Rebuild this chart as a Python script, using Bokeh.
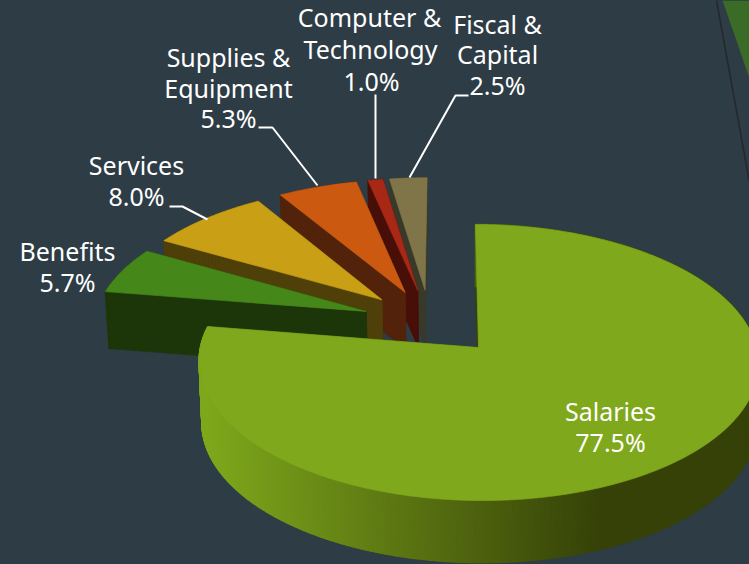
import math
from bokeh.embed import file_html
from bokeh.resources import INLINE
from bokeh.plotting import figure
from bokeh.models import Range1d, ColumnDataSource
from bokeh.core.properties import value

# ---- data ----
categories = ["Salaries", "Benefits", "Services", "Supplies & Equipment", "Computer & Technology", "Fiscal & Capital"]
shares = [77.5, 5.7, 8.0, 5.3, 1.0, 2.5]
top_colors = ["#7fa81c", "#46871a", "#c99f16", "#cb5a10", "#a82816", "#7f7548"]
wall_colors = ["#364208", "#1c3609", "#4f3f08", "#52230a", "#470f08", "#39392a"]
label_lines = [["Salaries", "77.5%"], ["Benefits", "5.7%"], ["Services", "8.0%"],
               ["Supplies &", "Equipment", "5.3%"], ["Computer &", "Technology", "1.0%"],
               ["Fiscal &", "Capital", "2.5%"]]

# ---- layout ----
BG = "#2d3c45"
W, H = 749, 564
AX, AY = 478.0, 347.0      # screen position of the Salaries apex
R, B, K = 278.0, 136.4, 0.1087  # perspective disc projection
SKEW = 0.025
EXPLODE = 0.25
SHIFT_U = -0.014
DEPTH_MAIN, DEPTH_REST = 62.0, 57.0
FONT = "Noto Sans"
FS = "25px"
label_xy = [[(610, 410), (610, 441)], [(67, 250), (67, 281)], [(136, 164), (136, 195)],
            [(228, 56), (228, 87), (228, 117)], [(369, 16), (370, 48), (371, 80)],
            [(497, 23), (497, 53), (497, 84)]]
leaders = [([169, 182, 207], [206, 206, 219]),
           ([258, 272, 317], [127, 127, 185]),
           ([375, 375], [94, 178]),
           ([468, 455, 409], [95, 95, 177])]


def project(u, v):
    w = 1 + K * v
    y = AY - B * v / w
    return AX + R * u / w - SKEW * (AY - y), y


def lerp_hex(a, b, t):
    ca = [int(a[i:i + 2], 16) for i in (1, 3, 5)]
    cb = [int(b[i:i + 2], 16) for i in (1, 3, 5)]
    return "#%02x%02x%02x" % tuple(round(x + (y - x) * t) for x, y in zip(ca, cb))


def lower(pt, depth):
    return AX + (pt[0] - AX) * 0.99, pt[1] + depth


total = sum(shares)
spans = []
acc = 0.0
for s in shares:
    spans.append((acc / total * 360.0, (acc + s) / total * 360.0))
    acc += s

mid0 = math.radians(sum(spans[0]) / 2)
cu, cv = -EXPLODE * math.sin(mid0) + SHIFT_U, -EXPLODE * math.cos(mid0)

xs, ys, fills, widths = [], [], [], []


def add(points, color, width=0.7):
    xs.append([q[0] for q in points])
    ys.append([q[1] for q in points])
    fills.append(color)
    widths.append(width)


# slices are painted back to front: the small ones first, Salaries last
for i in [5, 4, 3, 2, 1, 0]:
    a0, a1 = spans[i]
    if i == 0:
        u0, v0 = 0.0, 0.0
    else:
        m = math.radians((a0 + a1) / 2)
        u0, v0 = cu + EXPLODE * math.sin(m), cv + EXPLODE * math.cos(m)
    depth = DEPTH_MAIN if i == 0 else DEPTH_REST
    n = int((a1 - a0) * 3) if i == 0 else max(int(a1 - a0), 4)
    rim = []
    for k in range(n + 1):
        t = math.radians(a0 + (a1 - a0) * k / n)
        rim.append(project(u0 + math.sin(t), v0 + math.cos(t)))
    apex = project(u0, v0)
    # cut faces
    add([apex, rim[0], lower(rim[0], depth), lower(apex, depth)], wall_colors[i])
    add([apex, rim[-1], lower(rim[-1], depth), lower(apex, depth)], wall_colors[i])
    # rim wall
    for k in range(n):
        if i == 0:
            tc = min(max((rim[k][0] - 205) / (600 - 205), 0), 1)
            add([rim[k], rim[k + 1], lower(rim[k + 1], depth), lower(rim[k], depth)],
                lerp_hex(top_colors[0], wall_colors[0], tc), 1.6)
        else:
            add([rim[k], rim[k + 1], lower(rim[k + 1], depth), lower(rim[k], depth)], wall_colors[i])
    # top face
    add([apex] + rim, top_colors[i])

p = figure(width=W, height=H, x_range=Range1d(0, W), y_range=Range1d(H, 0),
           output_backend="svg", toolbar_location=None, min_border=0,
           background_fill_color=BG, border_fill_color=BG, outline_line_color=None)
p.axis.visible = False
p.grid.visible = False

# background decoration, top right corner
p.patch([722, 749, 749], [0, 0, 78], fill_color="#3a6b27", line_color=None)
p.line([716, 749], [0, 182], line_color="#23282c", line_width=1.5)

p.patches(xs, ys, fill_color=fills, line_color=fills, line_width=widths)

for lx, ly in leaders:
    p.line(lx, ly, line_color="#ffffff", line_width=2)

tx, ty, tt = [], [], []
for lines, pos in zip(label_lines, label_xy):
    for line, (x, y) in zip(lines, pos):
        tx.append(x)
        ty.append(y)
        tt.append(line)
p.text(x="x", y="y", text="t", source=ColumnDataSource(dict(x=tx, y=ty, t=tt)),
       text_color="#ffffff", text_font=value(FONT), text_font_size=value(FS),
       text_align="center", text_baseline="middle")

PAGE = "{% block postamble %}<style>html,body{margin:0;padding:0;overflow:hidden;background:#2d3c45}</style>{% endblock %}"
open("out.html", "w").write(file_html(p, INLINE, template=PAGE))
